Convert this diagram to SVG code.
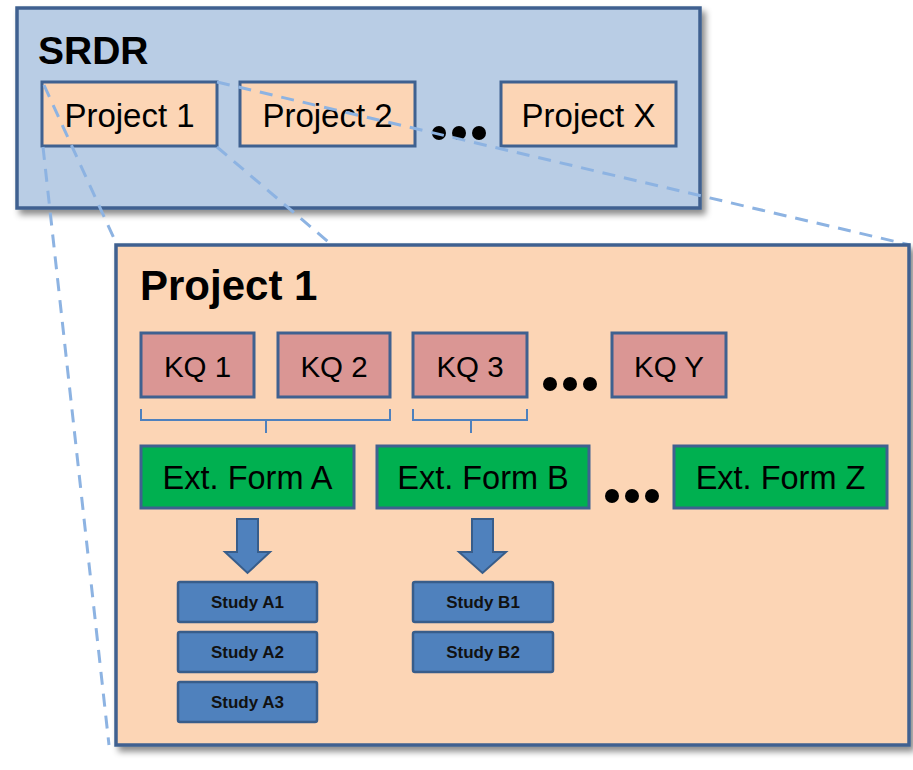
<svg xmlns="http://www.w3.org/2000/svg" width="913" height="770" viewBox="0 0 913 770">
<defs>
<filter id="sh" x="-5%" y="-5%" width="115%" height="120%">
<feDropShadow dx="4" dy="5" stdDeviation="3" flood-color="#000" flood-opacity="0.45"/>
</filter>
<style>
text{font-family:"Liberation Sans",Arial,sans-serif;fill:#000}
.big{fill:#fcd5b5;stroke:#3f6190;stroke-width:3.5}
.srdr{fill:#b9cde5;stroke:#3f6190;stroke-width:3.5}
.proj{fill:#fcd5b5;stroke:#3f6190;stroke-width:3}
.kq{fill:#da9694;stroke:#3f6190;stroke-width:3}
.ef{fill:#00b050;stroke:#3f6190;stroke-width:3}
.st{fill:#4f81bd;stroke:#385d8a;stroke-width:2.5}
.arr{fill:#4f81bd;stroke:#385d8a;stroke-width:2}
.dash{fill:none;stroke:#8db3e2;stroke-width:3;stroke-dasharray:13 9}
.brace{fill:none;stroke:#4f81bd;stroke-width:2}
.tp{font-size:33px}
.tk{font-size:29.5px}
.tef{font-size:32.5px}
.ts{font-size:17px;font-weight:bold;fill:#111}
.title{font-weight:bold}
</style>
</defs>
<g id="srdr">
<rect class="srdr" x="17" y="8" width="683" height="200" filter="url(#sh)"/>
<text class="title" x="38" y="64" font-size="39">SRDR</text>
</g>
<g id="project1-small">
<rect class="proj" x="42" y="82" width="175" height="64"/>
<text class="tp" x="129.5" y="127" text-anchor="middle">Project 1</text>
</g>
<g id="project2">
<rect class="proj" x="240" y="82" width="175" height="64"/>
<text class="tp" x="327.5" y="127" text-anchor="middle">Project 2</text>
</g>
<g id="dots-projects">
<circle cx="439" cy="133" r="7"/>
<circle cx="459" cy="133" r="7"/>
<circle cx="479" cy="133" r="7"/>
</g>
<g id="projectX">
<rect class="proj" x="501" y="82" width="175" height="64"/>
<text class="tp" x="588.5" y="127" text-anchor="middle">Project X</text>
</g>
<g id="connectors">
<line class="dash" x1="44" y1="85" x2="117" y2="245"/>
<line class="dash" x1="43" y1="147" x2="109" y2="745"/>
<line class="dash" x1="217" y1="147" x2="332" y2="245"/>
<line class="dash" x1="217" y1="82" x2="910" y2="245"/>
</g>
<g id="project1-big">
<rect class="big" x="116" y="245" width="793" height="500" filter="url(#sh)"/>
<text class="title" x="140" y="300" font-size="42">Project 1</text>
</g>
<g id="kq1">
<rect class="kq" x="141" y="333" width="113" height="64"/>
<text class="tk" x="197.5" y="377" text-anchor="middle">KQ 1</text>
</g>
<g id="kq2">
<rect class="kq" x="278" y="333" width="112" height="64"/>
<text class="tk" x="334" y="377" text-anchor="middle">KQ 2</text>
</g>
<g id="kq3">
<rect class="kq" x="413" y="333" width="114" height="64"/>
<text class="tk" x="470" y="377" text-anchor="middle">KQ 3</text>
</g>
<g id="dots-kq">
<circle cx="550" cy="384" r="7"/>
<circle cx="570" cy="384" r="7"/>
<circle cx="590" cy="384" r="7"/>
</g>
<g id="kqY">
<rect class="kq" x="612" y="333" width="114" height="64"/>
<text class="tk" x="669" y="377" text-anchor="middle">KQ Y</text>
</g>
<g id="braces">
<path class="brace" d="M141,409 V420 H390 V409 M266,420 V433"/>
<path class="brace" d="M413,409 V420 H527 V409 M471,420 V433"/>
</g>
<g id="formA">
<rect class="ef" x="141" y="446" width="213" height="62"/>
<text class="tef" x="247.5" y="489" text-anchor="middle">Ext. Form A</text>
</g>
<g id="formB">
<rect class="ef" x="377" y="446" width="212" height="62"/>
<text class="tef" x="483" y="489" text-anchor="middle">Ext. Form B</text>
</g>
<g id="dots-forms">
<circle cx="612" cy="496" r="7"/>
<circle cx="632" cy="496" r="7"/>
<circle cx="652" cy="496" r="7"/>
</g>
<g id="formZ">
<rect class="ef" x="674" y="446" width="213" height="62"/>
<text class="tef" x="780.5" y="489" text-anchor="middle">Ext. Form Z</text>
</g>
<g id="arrowA">
<path class="arr" d="M237,519 H258 V552 H270 L247.5,573 L225,552 H237 Z"/>
</g>
<g id="arrowB">
<path class="arr" d="M472,519 H493 V552 H506 L482.5,573 L459,552 H472 Z"/>
</g>
<g id="studyA1">
<rect class="st" x="178" y="582" width="139" height="40" rx="2"/>
<text class="ts" x="247.5" y="608" text-anchor="middle">Study A1</text>
</g>
<g id="studyA2">
<rect class="st" x="178" y="632" width="139" height="40" rx="2"/>
<text class="ts" x="247.5" y="658" text-anchor="middle">Study A2</text>
</g>
<g id="studyA3">
<rect class="st" x="178" y="682" width="139" height="40" rx="2"/>
<text class="ts" x="247.5" y="708" text-anchor="middle">Study A3</text>
</g>
<g id="studyB1">
<rect class="st" x="413" y="582" width="140" height="40" rx="2"/>
<text class="ts" x="483" y="608" text-anchor="middle">Study B1</text>
</g>
<g id="studyB2">
<rect class="st" x="413" y="632" width="140" height="40" rx="2"/>
<text class="ts" x="483" y="658" text-anchor="middle">Study B2</text>
</g>
</svg>
